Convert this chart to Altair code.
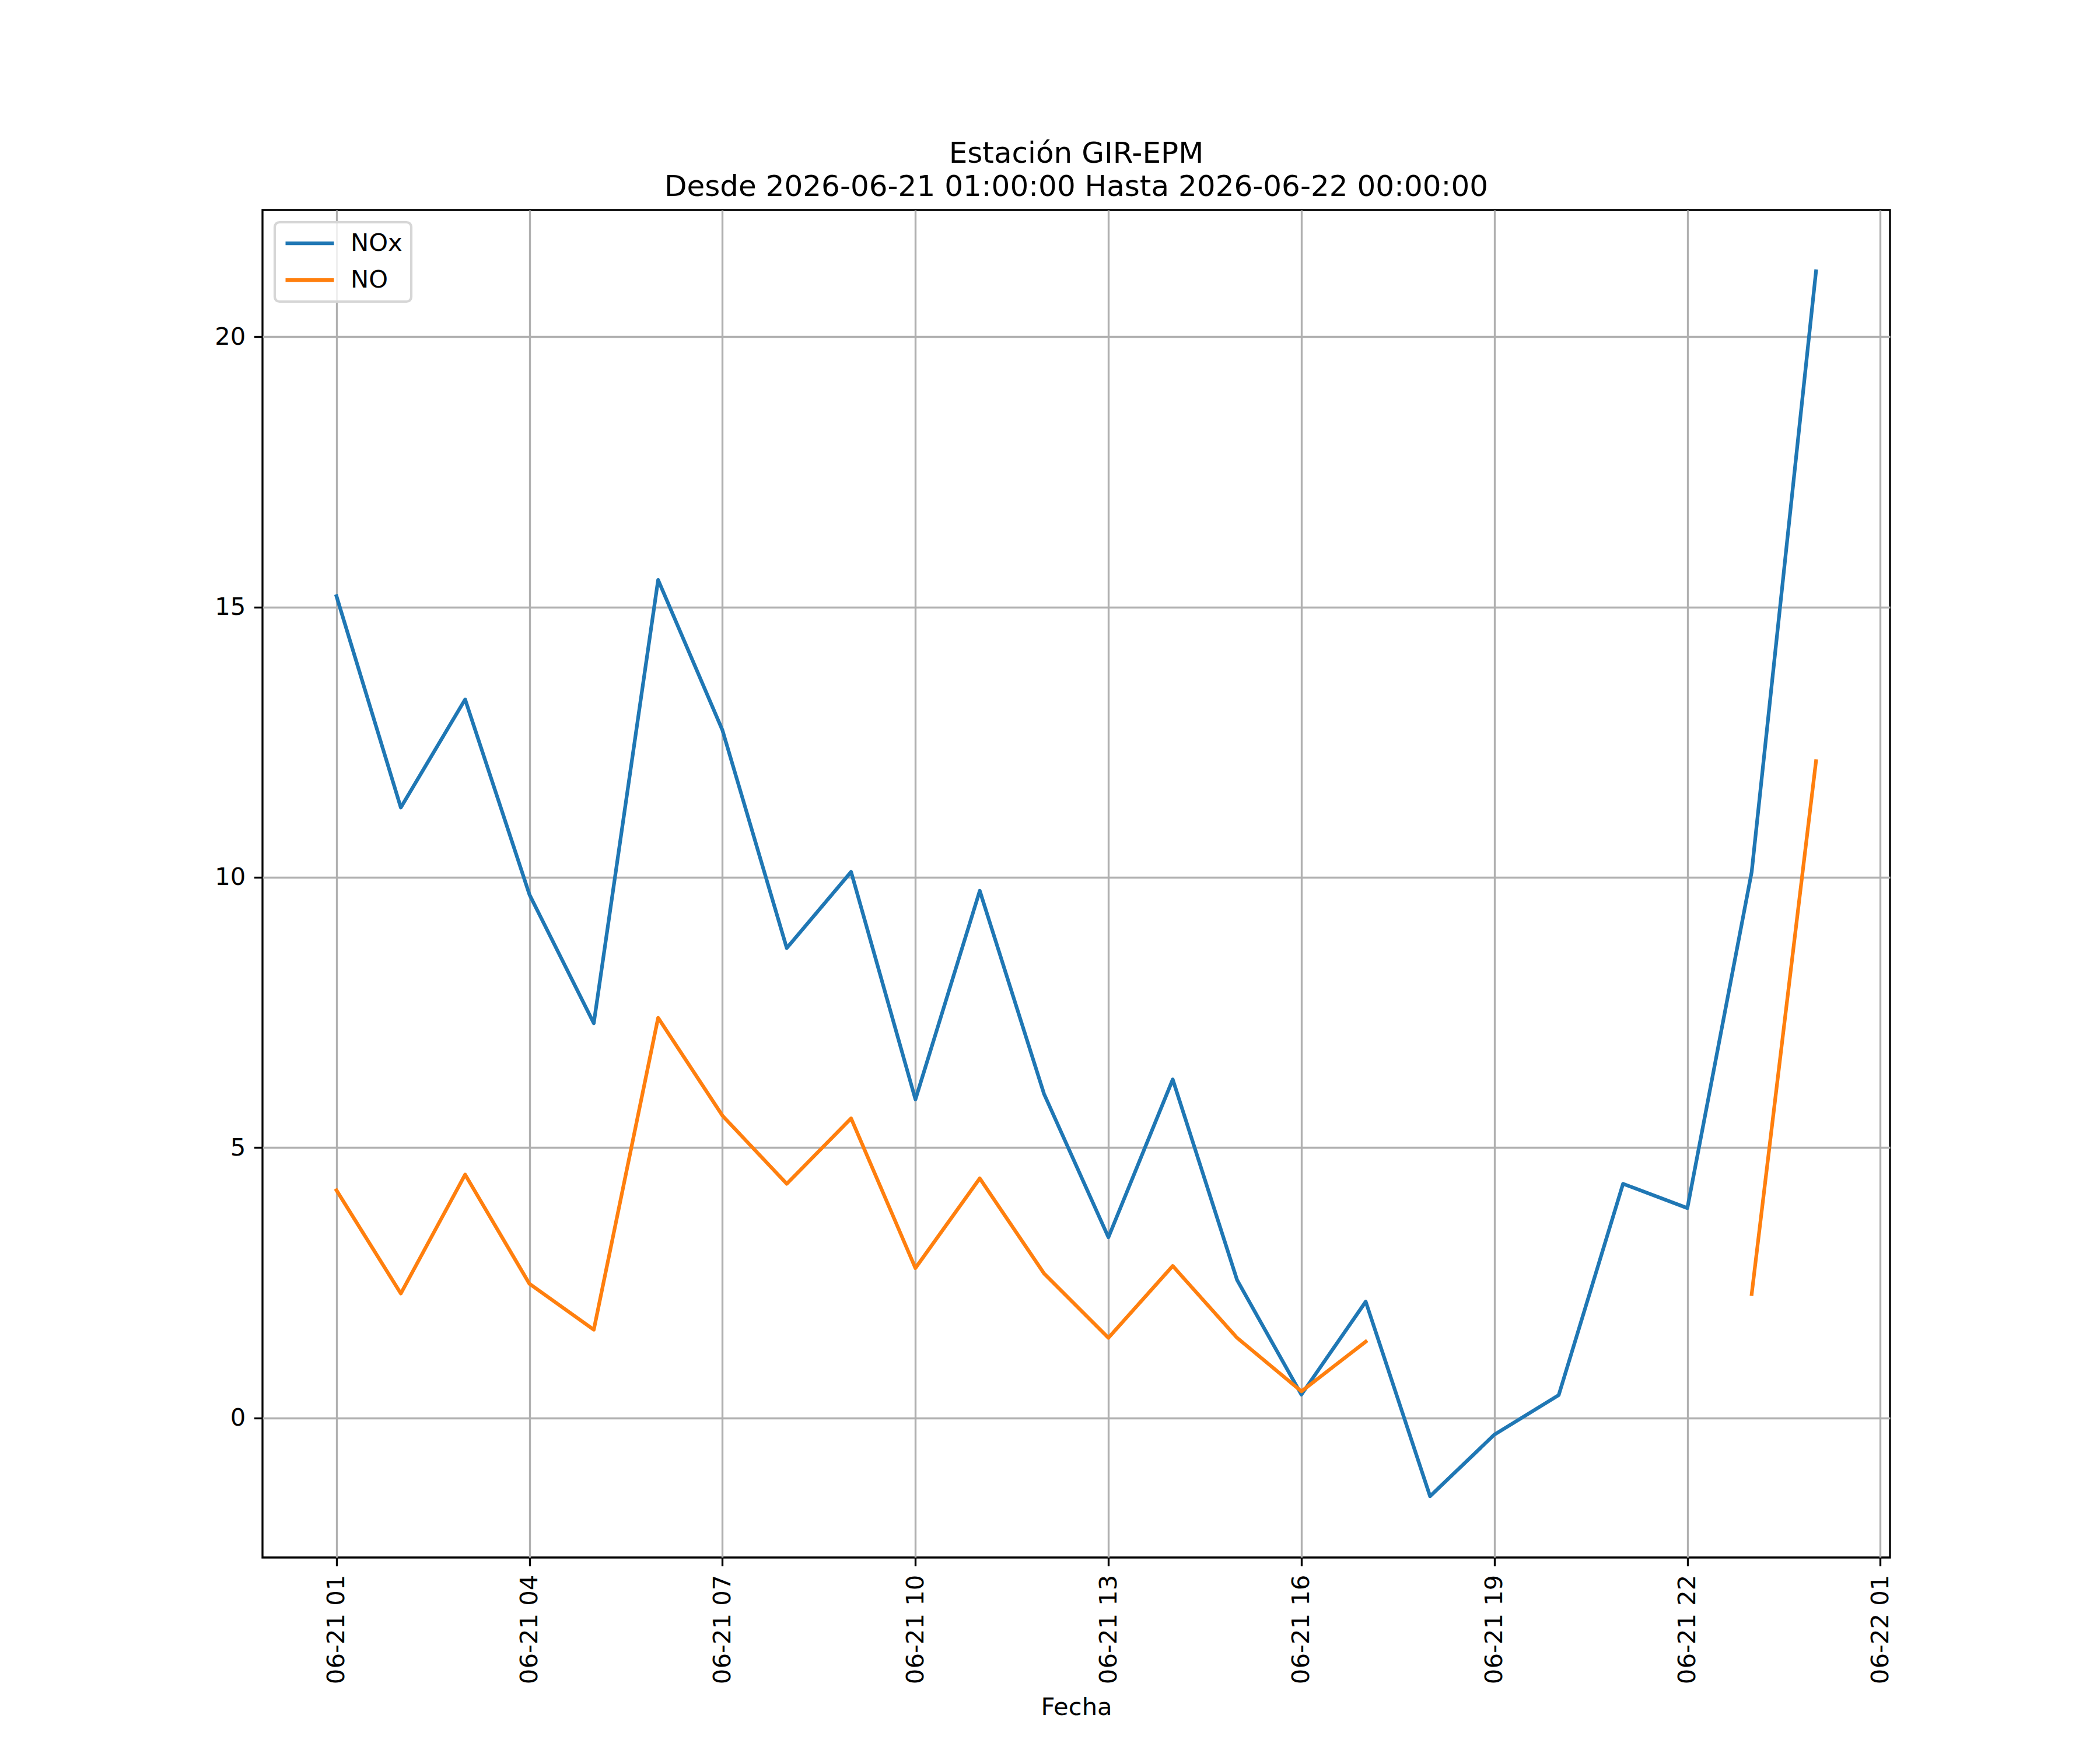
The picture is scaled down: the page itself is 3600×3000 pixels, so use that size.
import altair as alt
import pandas as pd

# ---- data ----
fechas = [
    "2026-06-21T01:00:00Z", "2026-06-21T02:00:00Z", "2026-06-21T03:00:00Z",
    "2026-06-21T04:00:00Z", "2026-06-21T05:00:00Z", "2026-06-21T06:00:00Z",
    "2026-06-21T07:00:00Z", "2026-06-21T08:00:00Z", "2026-06-21T09:00:00Z",
    "2026-06-21T10:00:00Z", "2026-06-21T11:00:00Z", "2026-06-21T12:00:00Z",
    "2026-06-21T13:00:00Z", "2026-06-21T14:00:00Z", "2026-06-21T15:00:00Z",
    "2026-06-21T16:00:00Z", "2026-06-21T17:00:00Z", "2026-06-21T18:00:00Z",
    "2026-06-21T19:00:00Z", "2026-06-21T20:00:00Z", "2026-06-21T21:00:00Z",
    "2026-06-21T22:00:00Z", "2026-06-21T23:00:00Z", "2026-06-22T00:00:00Z",
]
nox = [15.20, 11.29, 13.29, 9.68, 7.30, 15.50, 12.72, 8.69, 10.10, 5.89,
       9.75, 5.99, 3.34, 6.26, 2.55, 0.43, 2.15, -1.45, -0.31, 0.42,
       4.33, 3.88, 10.10, 21.21]
no = [4.21, 2.30, 4.50, 2.48, 1.63, 7.40, 5.59, 4.33, 5.54, 2.77,
      4.43, 2.67, 1.48, 2.81, 1.48, 0.49, 1.41, None, None, None,
      None, None, 2.29, 12.15]
series = ["NOx", "NO"]
colors = ["#1f77b4", "#ff7f0e"]
y_ticks = [0, 5, 10, 15, 20]
x_tick_times = [
    "2026-06-21T01:00:00Z", "2026-06-21T04:00:00Z", "2026-06-21T07:00:00Z",
    "2026-06-21T10:00:00Z", "2026-06-21T13:00:00Z", "2026-06-21T16:00:00Z",
    "2026-06-21T19:00:00Z", "2026-06-21T22:00:00Z", "2026-06-22T01:00:00Z",
]
title_lines = ["Estación GIR-EPM",
               "Desde 2026-06-21 01:00:00 Hasta 2026-06-22 00:00:00"]

# ---- table ----
rows = []
for f, a, b in zip(fechas, nox, no):
    rows.append({"fecha": f, "serie": "NOx", "valor": a})
    rows.append({"fecha": f, "serie": "NO", "valor": b})
df = pd.DataFrame(rows)


def ms(s):
    return int(pd.Timestamp(s).value // 10**6)


# matplotlib-like 5% margins
t0, t1 = ms(fechas[0]), ms(fechas[-1])
xm = 0.05 * (t1 - t0)
x_domain = [t0 - xm, t1 + xm]
vals = [v for v in nox + no if v is not None]
ymin, ymax = min(vals), max(vals)
ym = 0.05 * (ymax - ymin)
y_domain = [ymin - ym, ymax + ym]

FONT = "DejaVu Sans"
FS = 41.7
LW = 3.33

chart = (
    alt.Chart(df)
    .mark_line(strokeWidth=6.25, strokeJoin="round", strokeCap="square")
    .encode(
        x=alt.X(
            "fecha:T",
            scale=alt.Scale(type="utc", domain=x_domain, nice=False),
            axis=alt.Axis(
                values=[ms(t) for t in x_tick_times],
                labelExpr="utcFormat(datum.value, '%m-%d %H')",
                labelAngle=270,
                labelLimit=0,
                title="Fecha",
                titleY=256,
                titleBaseline="middle",
                labelOverlap=False,
                labelFlush=False,
            ),
        ),
        y=alt.Y(
            "valor:Q",
            scale=alt.Scale(domain=y_domain, nice=False, zero=False),
            axis=alt.Axis(values=y_ticks, title=None, format="d"),
        ),
        color=alt.Color(
            "serie:N",
            scale=alt.Scale(domain=series, range=colors),
            sort=series,
            legend=alt.Legend(
                title=None,
                orient="none",
                legendX=21,
                legendY=21,
                symbolType="stroke",
                symbolSize=6889,
                symbolStrokeWidth=6.25,
                labelOffset=25,
                padding=15,
                clipHeight=42,
                strokeColor="#d6d6d6",
                fillColor="rgba(255,255,255,0.8)",
                cornerRadius=8,
                rowPadding=20,
            ),
        ),
    )
    .properties(
        width=2790,
        height=2310,
        autosize="none",
        padding={"left": 442, "top": 352, "right": 352, "bottom": 322},
        title=alt.TitleParams(
            text=title_lines,
            fontSize=50,
            font=FONT,
            fontWeight="normal",
            color="black",
            anchor="middle",
            frame="group",
            offset=14,
            lineHeight=57,
        ),
    )
    .configure_view(stroke="black", strokeWidth=LW)
    .configure_axis(
        domain=False,
        grid=True,
        gridColor="#b0b0b0",
        gridWidth=LW,
        tickColor="black",
        tickWidth=LW,
        tickSize=14.6,
        labelPadding=14.6,
        labelFont=FONT,
        labelFontSize=FS,
        labelColor="black",
        titleFont=FONT,
        titleFontSize=FS,
        titleFontWeight="normal",
        titleColor="black",
    )
    .configure_legend(
        labelFont=FONT,
        labelFontSize=FS,
        labelColor="black",
        strokeWidth=4.2,
    )
)

chart.save("out.html", embed_options={"renderer": "svg", "actions": False})
